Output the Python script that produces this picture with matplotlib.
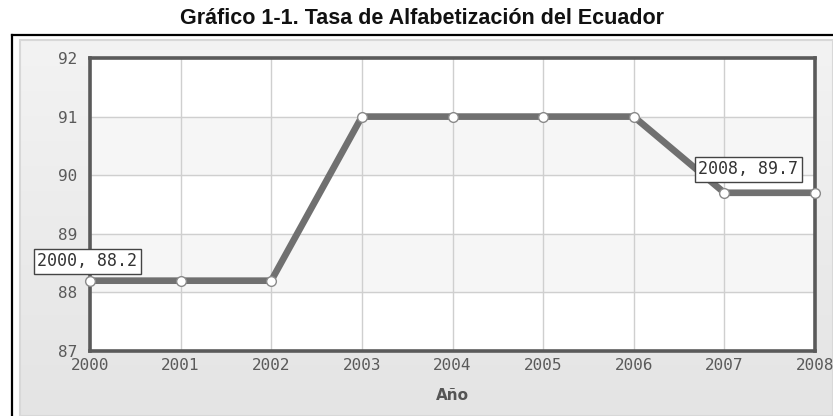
import matplotlib
matplotlib.use("Agg")
import matplotlib.pyplot as plt
import numpy as np
from matplotlib.lines import Line2D
from matplotlib.patches import Rectangle
from matplotlib.colors import LinearSegmentedColormap

years = [2000, 2001, 2002, 2003, 2004, 2005, 2006, 2007, 2008]
rates = [88.2, 88.2, 88.2, 91.0, 91.0, 91.0, 91.0, 89.7, 89.7]
yticks = [87, 88, 89, 90, 91, 92]
title = "Gráfico 1-1. Tasa de Alfabetización del Ecuador"
xlabel = "Año"
labels = [(2000, 88.2, "2000, 88.2"), (2008, 89.7, "2008, 89.7")]

W, H = 833, 416
fig = plt.figure(figsize=(W / 100, H / 100), dpi=100)
fig.patch.set_facecolor("white")

def fx(px):
    return px / W

def fy(py):
    return 1 - py / H

# gray gradient panel
bg = fig.add_axes([fx(20), 0, 1 - fx(20), fy(40)])
grad = np.linspace(0, 1, 256).reshape(-1, 1)
cmap = LinearSegmentedColormap.from_list("g", ["#f3f3f3", "#e4e4e4"])
bg.imshow(grad, aspect="auto", cmap=cmap, extent=[0, 1, 0, 1], origin="upper")
bg.set_axis_off()
bg.add_patch(Rectangle((0, 0), 1, 1, transform=bg.transAxes, fill=False,
                       edgecolor="#d8d8d8", linewidth=1.5, clip_on=False))

# black outer frame (left and top)
fig.add_artist(Line2D([fx(12), fx(12)], [0, fy(35)], color="black", linewidth=1.6,
                      transform=fig.transFigure))
fig.add_artist(Line2D([fx(12), 1], [fy(35), fy(35)], color="black", linewidth=1.6,
                      transform=fig.transFigure))

fig.text(fx(422), fy(18), title, ha="center", va="center",
         fontsize=15.5, fontweight="bold", family="Liberation Sans", color="#111111")

ax = fig.add_axes([fx(90), fy(351), fx(815) - fx(90), fy(58) - fy(351)])
ax.set_facecolor("white")
ax.set_xlim(2000, 2008)
ax.set_ylim(87, 92)

# alternating bands
for y0 in (88, 90):
    ax.axhspan(y0, y0 + 1, color="#f6f6f6", zorder=0)

ax.set_xticks(years)
ax.set_yticks(yticks)
ax.grid(True, color="#cfcfcf", linewidth=1.0, zorder=1)
ax.set_axisbelow(True)

for s in ax.spines.values():
    s.set_color("#5a5a5a")
    s.set_linewidth(2.6)

ax.tick_params(axis="both", length=0, labelsize=11.5, labelcolor="#5a5a5a")
ax.tick_params(axis="x", pad=5)
ax.tick_params(axis="y", pad=9)
for lab in ax.get_xticklabels() + ax.get_yticklabels():
    lab.set_family("DejaVu Sans Mono")

ax.plot(years, rates, color="#707070", linewidth=4.8, solid_capstyle="round",
        zorder=3, clip_on=False)
ax.plot(years, rates, linestyle="none", marker="o", markersize=7,
        markerfacecolor="white", markeredgecolor="#8a8a8a", markeredgewidth=1.0,
        zorder=4, clip_on=False)

ax.set_xlabel(xlabel, fontsize=11, fontweight="bold", color="#555555",
              family="DejaVu Sans", labelpad=11)

offsets = {"2000, 88.2": (-2, 14), "2008, 89.7": (-48, 17)}
for x, y, t in labels:
    ax.annotate(t, (x, y), xytext=offsets[t], textcoords="offset points",
                ha="center", va="center", fontsize=12, family="DejaVu Sans Mono",
                color="#333333", zorder=6, annotation_clip=False,
                bbox=dict(boxstyle="square,pad=0.2", facecolor="white",
                          edgecolor="#444444", linewidth=1.0))

fig.savefig("out.png", dpi=100)
